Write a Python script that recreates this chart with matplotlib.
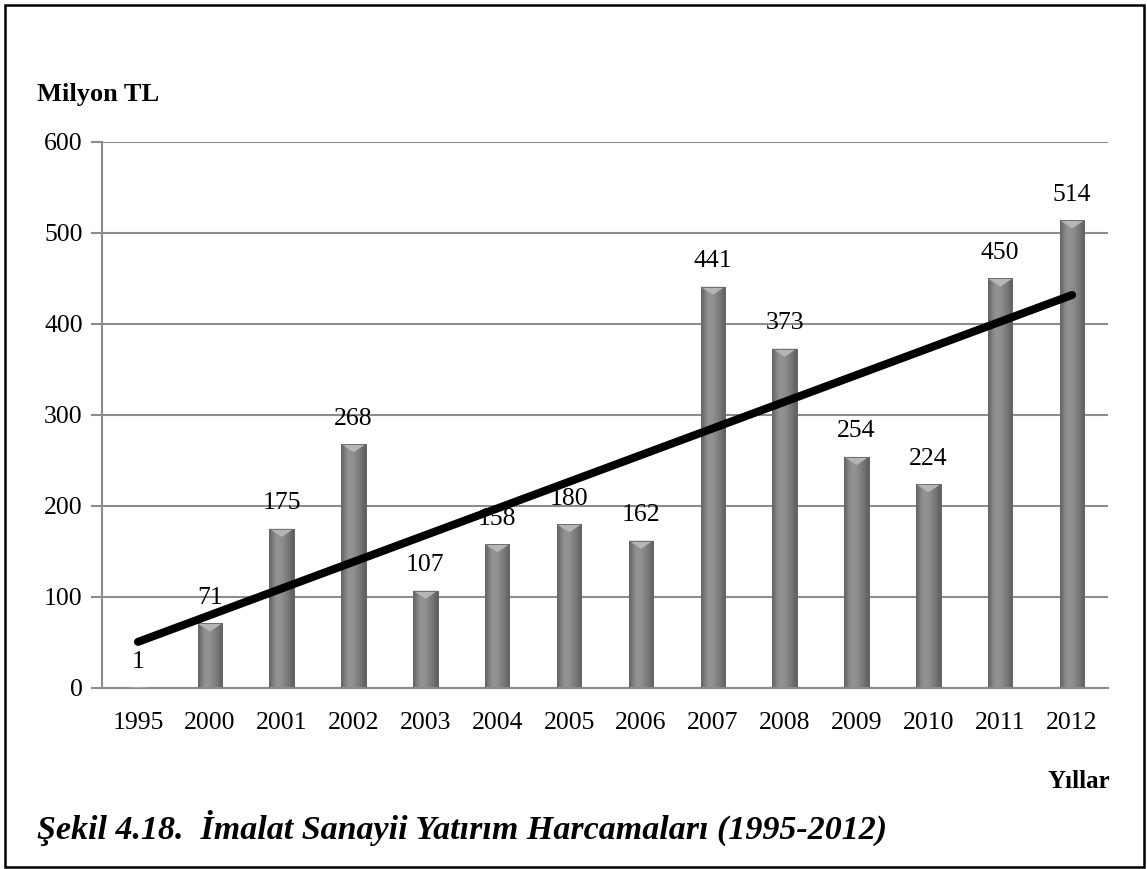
import numpy as np
import matplotlib.pyplot as plt
from matplotlib.patches import Rectangle, Polygon

years = ['1995', '2000', '2001', '2002', '2003', '2004', '2005',
         '2006', '2007', '2008', '2009', '2010', '2011', '2012']
values = [1, 71, 175, 268, 107, 158, 180, 162, 441, 373, 254, 224, 450, 514]

plt.rcParams['font.family'] = ['Liberation Serif', 'DejaVu Serif']

fig = plt.figure(figsize=(11.47, 8.69), dpi=100)
ax = fig.add_axes([0.089, 0.2083, 0.877, 0.6283])

x = np.arange(len(years))
bw = 0.34
bars = ax.bar(x, values, width=bw, color='#8a8a8a', edgecolor='#5e5e5e',
              linewidth=0.6, zorder=2)

# horizontal shading to fake the bevelled 3D bars
grad = np.array([[0.40, 0.52, 0.58, 0.57, 0.54, 0.50, 0.45, 0.38]])
for b, v in zip(bars, values):
    bx, by = b.get_x(), b.get_y()
    w, h = b.get_width(), b.get_height()
    im = ax.imshow(grad, cmap='gray', vmin=0, vmax=1, aspect='auto',
                   extent=(bx, bx + w, by, by + h), zorder=2.5,
                   interpolation='bicubic')
    im.set_clip_path(b)
    bev = min(9, h)
    tri = Polygon([(bx, by + h), (bx + w, by + h), (bx + w / 2, by + h - bev)],
                  closed=True, facecolor='#b5b5b5', edgecolor='none', zorder=2.6)
    ax.add_patch(tri)
    if v > 5:
        ax.add_patch(Rectangle((bx, by), w, h, fill=False, edgecolor='#666666',
                               linewidth=0.6, zorder=2.7))
    ax.text(b.get_x() + w / 2, v + 16, str(v), ha='center', va='bottom',
            fontsize=18.5, zorder=3)

# linear trend line
k, c = np.polyfit(x + 1, values, 1)
ax.plot(x, k * (x + 1) + c, color='black', linewidth=5.8,
        solid_capstyle='round', zorder=4)

ax.set_xlim(-0.5, len(years) - 0.5)
ax.set_ylim(0, 600)
ax.set_yticks(range(0, 601, 100))
ax.set_xticks(x)
ax.set_xticklabels(years)
ax.yaxis.grid(True, color='#8c8c8c', linewidth=1.5, zorder=1)
ax.set_axisbelow(True)
for s in ['top', 'right']:
    ax.spines[s].set_visible(False)
ax.spines['left'].set_color('#8c8c8c')
ax.spines['left'].set_linewidth(1.5)
ax.spines['bottom'].set_color('#8c8c8c')
ax.spines['bottom'].set_linewidth(1.5)
ax.tick_params(axis='y', length=8, width=1.5, color='#8c8c8c',
               labelsize=18.5, pad=6)
ax.tick_params(axis='x', length=0, labelsize=18.5, pad=17)

fig.text(0.032, 0.891, 'Milyon TL', fontsize=19, fontweight='bold',
         ha='left', va='center')
fig.text(0.968, 0.101, 'Yıllar', fontsize=18, fontweight='bold',
         ha='right', va='center')
fig.text(0.032, 0.047, 'Şekil 4.18.  İmalat Sanayii Yatırım Harcamaları (1995-2012)',
         fontsize=24.5, fontweight='bold', fontstyle='italic',
         ha='left', va='center')

# outer frame
fig.add_artist(Rectangle((0.0045, 0.0025), 0.993, 0.992, transform=fig.transFigure,
                         fill=False, edgecolor='black', linewidth=1.8))

fig.savefig('out.png', dpi=100)
